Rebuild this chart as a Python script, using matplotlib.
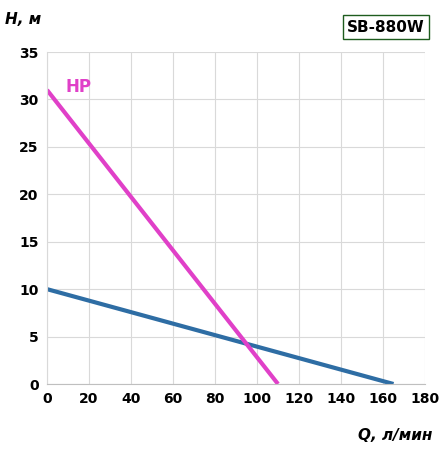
import matplotlib
matplotlib.use("Agg")
import matplotlib.pyplot as plt

hp_q = [0, 110]
hp_h = [31, 0]
blue_q = [0, 165]
blue_h = [10, 0]
xticks = list(range(0, 181, 20))
yticks = list(range(0, 36, 5))

fig = plt.figure(figsize=(4.45, 4.57), dpi=100)
ax = fig.add_axes([47/445, 1-384/457, 378/445, 332/457])
ax.plot(blue_q, blue_h, color="#2e6da4", lw=3, solid_capstyle="butt")
ax.plot(hp_q, hp_h, color="#e040c8", lw=3, solid_capstyle="butt")
ax.set_xlim(0, 180)
ax.set_ylim(0, 35)
ax.set_xticks(xticks)
ax.set_yticks(yticks)
ax.grid(True, color="#d9d9d9", lw=0.8)
for s in ["top", "right"]:
    ax.spines[s].set_visible(False)
ax.spines["left"].set_color("#d9d9d9")
ax.spines["bottom"].set_color("#bfbfbf")
ax.tick_params(length=0, labelsize=10, pad=6)
for t in ax.get_xticklabels() + ax.get_yticklabels():
    t.set_fontweight("bold")
ax.text(9, 31.3, "HP", color="#e040c8", fontsize=12, fontweight="bold", va="center")
fig.text(5/445, 1-20/457, "H, м", fontsize=11, fontweight="bold", style="italic", va="center")
fig.text(432/445, 1-436/457, "Q, л/мин", fontsize=11, fontweight="bold", style="italic", va="center", ha="right")
fig.text(386/445, 1-27/457, "SB-880W", fontsize=11, fontweight="bold", ha="center", va="center",
         bbox=dict(boxstyle="square,pad=0.3", fc="white", ec="#1e5c1e", lw=1))
fig.savefig("out.png", dpi=100)
